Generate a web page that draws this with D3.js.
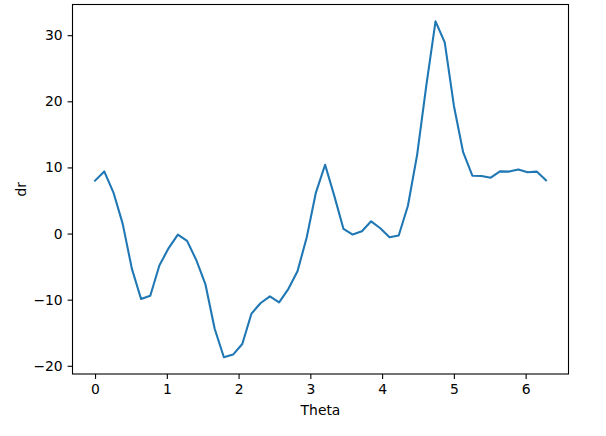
<!DOCTYPE html>
<html><head><meta charset="utf-8">
<script src="https://cdn.jsdelivr.net/npm/d3@7"></script>
<style>body{margin:0;background:#fff}svg{display:block}</style>
</head><body>
<svg id="c" width="606" height="436"></svg>
<script>
const thetaCount = 50;
const drValues = [8.0, 9.4, 6.2, 1.5, -5.3, -9.9, -9.4, -4.8, -2.2, -0.15,
  -1.1, -4.0, -7.7, -14.4, -18.7, -18.3, -16.7, -12.1, -10.5, -9.5,
  -10.4, -8.4, -5.7, -0.6, 6.2, 10.4, 5.7, 0.7, -0.15, 0.35,
  1.85, 0.8, -0.55, -0.3, 4.2, 11.9, 22.4, 32.1, 28.9, 19.3,
  12.3, 8.75, 8.7, 8.45, 9.4, 9.37, 9.7, 9.26, 9.37, 8.05];
const xTicks = [0, 1, 2, 3, 4, 5, 6];
const yTicks = [-20, -10, 0, 10, 20, 30];
const thetaValues = d3.range(thetaCount).map(i => i * 2 * Math.PI / (thetaCount - 1));
const data = thetaValues.map((t, i) => ({t, v: drValues[i]}));

const L = 72.5, R = 568.5, T = 4.5, B = 374;
const svg = d3.select("#c");
const font = "DejaVu Sans, sans-serif";

function pad(ext){ const s = ext[1]-ext[0]; return [ext[0]-0.05*s, ext[1]+0.05*s]; }
const x = d3.scaleLinear().domain(pad(d3.extent(thetaValues))).range([L, R]);
const y = d3.scaleLinear().domain(pad(d3.extent(drValues))).range([B, T]);

const fmt = d => d < 0 ? "\u2212" + Math.abs(d) : String(d);

const xAxis = svg.append("g").attr("transform", `translate(0,${B})`)
  .call(d3.axisBottom(x).tickValues(xTicks).tickSize(4.9).tickPadding(4.9).tickFormat(fmt));
const yAxis = svg.append("g").attr("transform", `translate(${L},0)`)
  .call(d3.axisLeft(y).tickValues(yTicks).tickSize(4.9).tickPadding(4.9).tickFormat(fmt));
[xAxis, yAxis].forEach(g => {
  g.select(".domain").remove();
  g.selectAll(".tick line").attr("stroke", "#000").attr("stroke-width", 1.1);
  g.selectAll(".tick text").attr("fill", "#000").style("font-family", font).style("font-size", "13.9px");
});

svg.append("path").datum(data)
  .attr("fill", "none").attr("stroke", "#1f77b4").attr("stroke-width", 2.08)
  .attr("stroke-linejoin", "round").attr("stroke-linecap", "square")
  .attr("d", d3.line().x(d => x(d.t)).y(d => y(d.v)));

svg.append("rect").attr("x", L).attr("y", T).attr("width", R - L).attr("height", B - T)
  .attr("fill", "none").attr("stroke", "#000").attr("stroke-width", 1.1);

svg.append("text").attr("x", (L + R) / 2).attr("y", 415).attr("text-anchor", "middle")
  .style("font-family", font).style("font-size", "13.9px").text("Theta");
svg.append("text").attr("transform", `translate(26,${(T + B) / 2}) rotate(-90)`)
  .attr("text-anchor", "middle")
  .style("font-family", font).style("font-size", "13.9px").text("dr");
</script>
</body></html>
